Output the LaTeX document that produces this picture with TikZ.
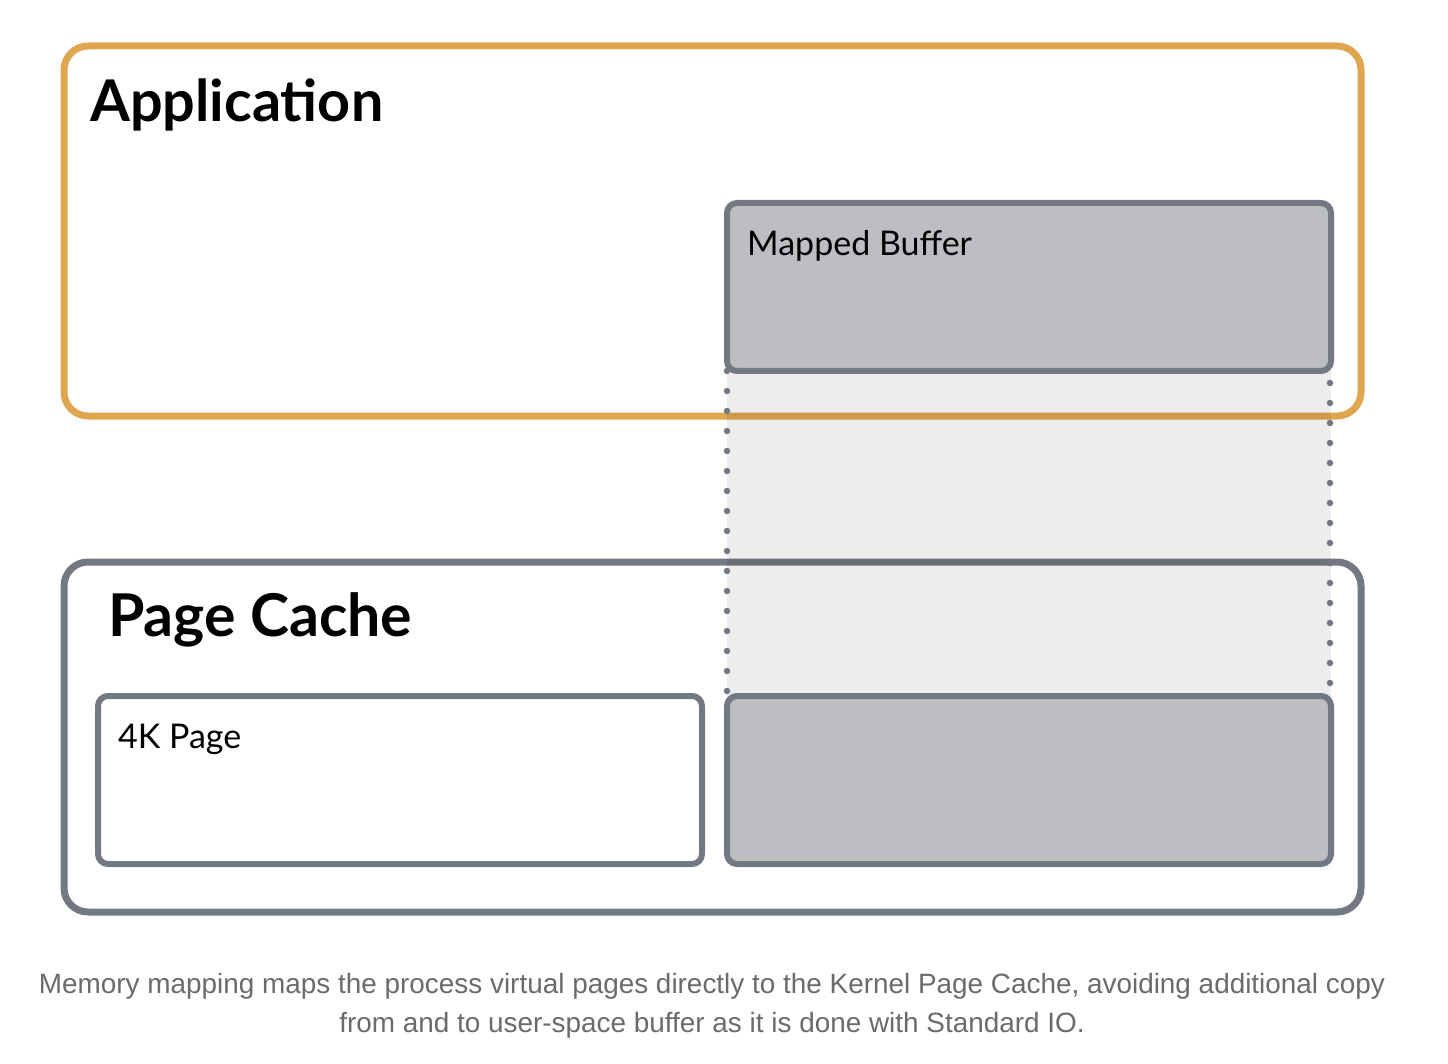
\documentclass[tikz,border=0pt]{standalone}
\usepackage{fontspec}
\setmainfont{Lato}
\newfontfamily\capfont{Liberation Sans}
\definecolor{orangeB}{HTML}{DFA650}
\definecolor{grayB}{HTML}{737982}
\definecolor{grayF}{HTML}{BDBEC2}
\definecolor{capC}{HTML}{6B6B6B}
\begin{document}
\begin{tikzpicture}[x=1pt,y=-1pt,
  outerbox/.style={line width=7pt,rounded corners=24pt},
  innerbox/.style={line width=6pt,rounded corners=10pt,draw=grayB,outer sep=0pt,inner sep=0pt,
    minimum width=604pt,minimum height=168pt,anchor=north west},
  dotline/.style={grayB,line width=6.5pt,line cap=round,dash pattern=on 0pt off 20pt},
  title/.style={anchor=base west,inner sep=0pt,font=\bfseries\fontsize{57.5}{58}\selectfont},
  label/.style={anchor=base west,inner sep=0pt,font=\fontsize{34}{34}\selectfont},
  caption/.style={anchor=base,inner sep=0pt,text=capC,font=\capfont\fontsize{27.9}{28}\selectfont}]
\useasboundingbox[fill=white] (0,0) rectangle (1448,1064);
% Application
\draw[outerbox,draw=orangeB] (64,46) rectangle (1361,416);
\node[title] (apptitle) at (90,122) {Application};
% Page cache
\draw[outerbox,draw=grayB] (64,562) rectangle (1361,912);
\node[title,font=\bfseries\fontsize{59}{59}\selectfont] (pctitle) at (108,636) {Page Cache};
% mapped region
\fill[black,fill opacity=0.07] (727,371) rectangle (1331,696);
\coordinate (lt) at (727,371);
\coordinate (lb) at (727,696);
\coordinate (rt) at (1330,383);
\coordinate (rb) at (1330,690);
\draw[dotline] (lt) -- (lb);
\draw[dotline] (rt) -- (rb);
% mapped buffer
\node[innerbox,fill=grayF] (mb) at (727,203) {};
\node[label] (mbl) at (747,256) {Mapped Buffer};
% 4K page
\node[innerbox,fill=white] (kp) at (98,696) {};
\node[label] (kpl) at (118,748) {4K Page};
% page in cache
\node[innerbox,fill=grayF] (cp) at (727,696) {};
% caption
\node[caption] (c1) at (712,993) {Memory mapping maps the process virtual pages directly to the Kernel Page Cache, avoiding additional copy};
\node[caption] (c2) at (712,1032) {from and to user-space buffer as it is done with Standard IO.};
\end{tikzpicture}
\end{document}
